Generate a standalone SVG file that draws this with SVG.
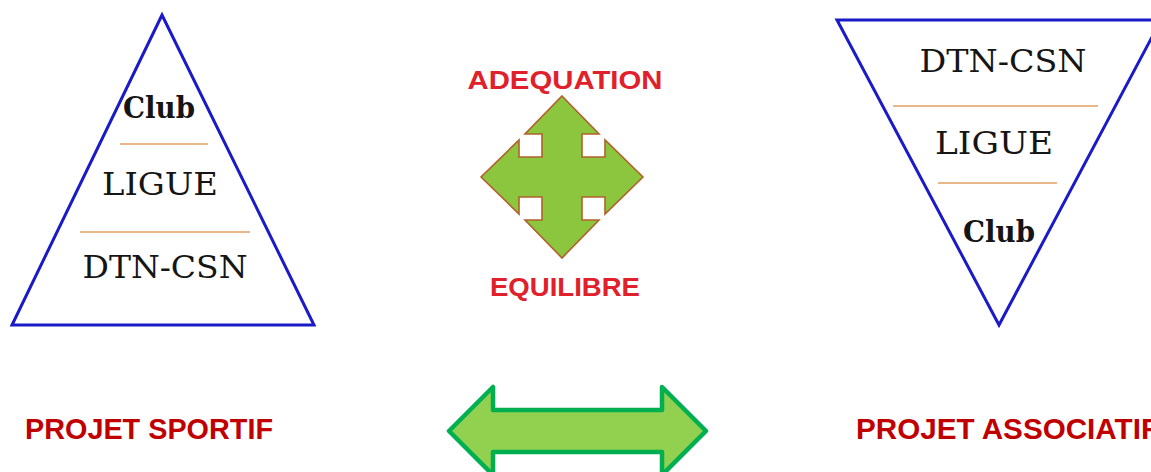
<svg xmlns="http://www.w3.org/2000/svg" width="1151" height="472" viewBox="0 0 1151 472">
<style>
.tri{fill:#fff;stroke:#1a1ac8;stroke-width:3;stroke-linejoin:miter}
.sep{stroke:#e0a060;stroke-width:1.6}
.serif{font-family:"DejaVu Serif","Liberation Serif",serif;fill:#151515;text-anchor:middle}
.lvl{font-size:32px}
.club{font-size:29px;font-weight:bold}
.red{font-family:"Liberation Sans","Open Sans",sans-serif;font-weight:bold;fill:#e0202a;font-size:25px;text-anchor:middle}
.proj{font-family:"Liberation Sans","Open Sans",sans-serif;font-weight:bold;fill:#c00000;font-size:30px}
</style>
<rect width="1151" height="472" fill="#fff"/>
<g id="pyramid-sportif">
<polygon class="tri" points="162,15 12,325 314,325"/>
<line class="sep" x1="120" y1="144" x2="208" y2="144"/>
<line class="sep" x1="80" y1="232" x2="250" y2="232"/>
<text class="serif club" x="159" y="118" textLength="72" lengthAdjust="spacingAndGlyphs">Club</text>
<text class="serif lvl" x="160" y="195" textLength="116" lengthAdjust="spacingAndGlyphs">LIGUE</text>
<text class="serif lvl" x="165" y="278" textLength="165" lengthAdjust="spacingAndGlyphs">DTN-CSN</text>
</g>
<g id="pyramid-associatif">
<polygon class="tri" points="837,20 1161,20 999,325"/>
<line class="sep" x1="893" y1="106" x2="1098" y2="106"/>
<line class="sep" x1="938" y1="183" x2="1057" y2="183"/>
<text class="serif lvl" x="1003" y="72" textLength="167" lengthAdjust="spacingAndGlyphs">DTN-CSN</text>
<text class="serif lvl" x="994" y="154" textLength="118" lengthAdjust="spacingAndGlyphs">LIGUE</text>
<text class="serif club" x="999" y="242" textLength="72" lengthAdjust="spacingAndGlyphs">Club</text>
</g>
<g id="adequation">
<text class="red" x="565" y="89" textLength="195" lengthAdjust="spacingAndGlyphs">ADEQUATION</text>
<text class="red" x="565" y="296" textLength="150" lengthAdjust="spacingAndGlyphs">EQUILIBRE</text>
<path transform="translate(562,177)" fill="#8cc63f" stroke="#b0622a" stroke-width="1.6" stroke-linejoin="miter"
d="M0,-81 L37,-43 L20,-43 L20,-20 L43,-20 L43,-37 L81,0 L43,37 L43,20 L20,20 L20,43 L37,43 L0,81 L-37,43 L-20,43 L-20,20 L-43,20 L-43,37 L-81,0 L-43,-37 L-43,-20 L-20,-20 L-20,-43 L-37,-43 Z"/>
</g>
<g id="connectors">
<path fill="#92d050" stroke="#00b050" stroke-width="4.5" stroke-linejoin="round"
d="M449,431 L493,387 L493,410 L662,410 L662,387 L706,431 L662,475 L662,452 L493,452 L493,475 Z"/>
</g>
<g id="labels">
<text class="proj" x="25" y="439" textLength="248" lengthAdjust="spacingAndGlyphs">PROJET SPORTIF</text>
<text class="proj" x="856" y="439" textLength="303" lengthAdjust="spacingAndGlyphs">PROJET ASSOCIATIF</text>
</g>
</svg>
